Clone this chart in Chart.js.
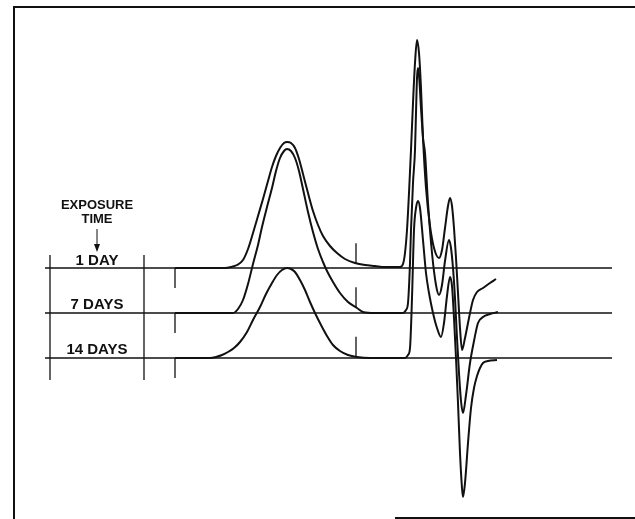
<!DOCTYPE html>
<html>
<head>
<meta charset="utf-8">
<script src="https://cdn.jsdelivr.net/npm/chart.js@4.4.1/dist/chart.umd.min.js"></script>
<style>
  html, body { margin: 0; padding: 0; background: #fff; }
  #wrap { width: 635px; height: 519px; }
</style>
</head>
<body>
<div id="wrap"><canvas id="chart"></canvas></div>
<script>
// Datos (x = tiempo de retencion, y = desviacion sobre la linea base)
const traceLabels = ['1 DAY', '7 DAYS', '14 DAYS'];
const baselineLevels = [0, -45, -90];

const xDay1 = [175, 200, 225, 231, 237, 243, 248, 253, 258, 263, 268, 272, 276, 280, 284, 287, 291, 295, 299, 303, 308, 313, 318, 323, 330, 337, 345, 355, 365, 375, 385, 397,
  400, 403, 405, 407, 409, 411, 413, 415, 417, 419, 421, 423, 426, 430, 434, 439, 442, 445, 448, 450, 452, 454, 456, 458, 460, 462, 465, 469, 473, 477, 483, 490, 496];
const yDay1 = [0, 0, 0, 1, 3, 8, 19, 35, 52, 69, 87, 101, 112, 120, 125, 126, 125, 120, 109, 94, 75, 57, 43, 32, 22, 15, 9, 5, 3, 2, 1, 1,
  1, 4, 15, 38, 75, 118, 165, 205, 228, 215, 180, 130, 80, 42, 20, 10, 18, 40, 62, 70, 62, 40, 10, -25, -60, -82, -70, -50, -32, -24, -20, -15, -11];

const xDay7 = [175, 200, 233, 238, 243, 248, 253, 258, 262, 267, 272, 276, 280, 284, 287, 291, 295, 299, 303, 308, 313, 318, 323, 327, 333, 340, 348, 357, 363, 375, 395,
  403, 406, 408, 410, 411, 413, 415, 416, 417, 418, 419, 421, 423, 425, 428, 432, 436, 439, 442, 445, 449, 451, 453, 455, 457, 459, 461, 463, 466, 470, 474, 478, 483, 490, 498];
const yDay7 = [0, 0, 0, 4, 13, 29, 49, 68, 86, 106, 125, 142, 155, 162, 164, 162, 155, 142, 124, 101, 81, 64, 51, 42, 31, 20, 11, 5, 1, 0, 0,
  0, 3, 10, 50, 83, 130, 163, 200, 235, 245, 238, 205, 175, 160, 110, 60, 28, 18, 28, 52, 73, 65, 45, 15, -25, -60, -88, -100, -82, -50, -28, -10, -4, -1, 1];

const xDay14 = [175, 210, 216, 222, 228, 234, 240, 247, 253, 260, 266, 272, 277, 282, 287, 291, 295, 300, 305, 310, 315, 321, 327, 333, 340, 348, 357, 370, 395,
  405, 408, 410, 412, 414, 416, 418, 420, 423, 426, 429, 433, 437, 441, 444, 447, 450, 452, 454, 456, 458, 460, 462, 463, 465, 468, 471, 474, 477, 480, 483, 488, 497];
const yDay14 = [0, 0, 1, 3, 6, 10, 16, 26, 38, 51, 64, 75, 83, 88, 90, 89, 86, 78, 68, 56, 45, 33, 22, 13, 7, 3, 1, 0, 0,
  0, 3, 10, 60, 128, 150, 157, 150, 118, 85, 65, 45, 30, 21, 35, 62, 81, 72, 40, 0, -45, -95, -130, -139, -125, -85, -50, -30, -18, -10, -5, -3, -2];

const traceX = [xDay1, xDay7, xDay14];
const traceY = [yDay1, yDay7, yDay14];

// Marcas del registrador
const penStartX = 175;
const markerX = 356;

function buildPoints(i) {
  return traceX[i].map((x, k) => ({ x: x, y: traceY[i][k] + baselineLevels[i] }));
}

function valueAt(i, x) {
  const xs = traceX[i], ys = traceY[i];
  for (let k = 1; k < xs.length; k++) {
    if (xs[k] >= x) {
      const t = (x - xs[k - 1]) / (xs[k] - xs[k - 1]);
      return ys[k - 1] + t * (ys[k] - ys[k - 1]) + baselineLevels[i];
    }
  }
  return ys[ys.length - 1] + baselineLevels[i];
}

// Plugin para el marco, lineas base, marcas y etiquetas
const recorderDecor = {
  id: 'recorderDecor',
  beforeDatasetsDraw(chart) {
    const ctx = chart.ctx;
    const xs = chart.scales.x, ys = chart.scales.y;
    const px = v => xs.getPixelForValue(v);
    const py = v => ys.getPixelForValue(v);
    ctx.save();
    ctx.strokeStyle = '#111';
    ctx.lineCap = 'butt';

    // marco
    ctx.lineWidth = 2;
    ctx.beginPath();
    ctx.moveTo(14, 519); ctx.lineTo(14, 7); ctx.lineTo(635, 7);
    ctx.moveTo(395, 518); ctx.lineTo(635, 518);
    ctx.stroke();

    // lineas base
    ctx.lineWidth = 1.3;
    baselineLevels.forEach(level => {
      ctx.beginPath();
      ctx.moveTo(px(45), py(level));
      ctx.lineTo(px(612), py(level));
      ctx.stroke();
    });

    // barras verticales de la tabla de etiquetas
    [50, 144].forEach(x => {
      ctx.beginPath();
      ctx.moveTo(px(x), py(13));
      ctx.lineTo(px(x), py(-112));
      ctx.stroke();
    });

    // inicio de la pluma y marcas de inyeccion
    baselineLevels.forEach((level, i) => {
      ctx.beginPath();
      ctx.moveTo(px(penStartX), py(level));
      ctx.lineTo(px(penStartX), py(level - 20));
      const m = valueAt(i, markerX);
      ctx.moveTo(px(markerX), py(m));
      ctx.lineTo(px(markerX), py(m + 20));
      ctx.stroke();
    });

    // etiquetas
    ctx.fillStyle = '#111';
    ctx.textAlign = 'center';
    ctx.textBaseline = 'alphabetic';
    ctx.font = 'bold 13px "Liberation Sans", Arial, sans-serif';
    ctx.fillText('EXPOSURE', 97, 209);
    ctx.fillText('TIME', 97, 223);
    ctx.lineWidth = 1;
    ctx.beginPath();
    ctx.moveTo(97, 229); ctx.lineTo(97, 250);
    ctx.stroke();
    ctx.beginPath();
    ctx.moveTo(94, 244); ctx.lineTo(97, 252); ctx.lineTo(100, 244);
    ctx.closePath();
    ctx.fill();

    ctx.font = 'bold 15px "Liberation Sans", Arial, sans-serif';
    const labelY = [265, 309, 354];
    traceLabels.forEach((t, i) => ctx.fillText(t, 97, labelY[i]));
    ctx.restore();
  }
};

const ctx = document.getElementById('chart').getContext('2d');
const chart = new Chart(ctx, {
  type: 'line',
  data: {
    datasets: traceLabels.map((label, i) => ({
      label: label,
      data: buildPoints(i),
      borderColor: '#111',
      borderWidth: 2,
      pointRadius: 0,
      fill: false,
      cubicInterpolationMode: 'monotone'
    }))
  },
  options: {
    responsive: true,
    maintainAspectRatio: false,
    animation: false,
    layout: { padding: 0 },
    plugins: {
      legend: { display: false },
      tooltip: { enabled: false }
    },
    scales: {
      x: { type: 'linear', min: 0, max: 635, display: false },
      y: { type: 'linear', min: -251, max: 268, display: false }
    }
  },
  plugins: [recorderDecor]
});
</script>
</body>
</html>
